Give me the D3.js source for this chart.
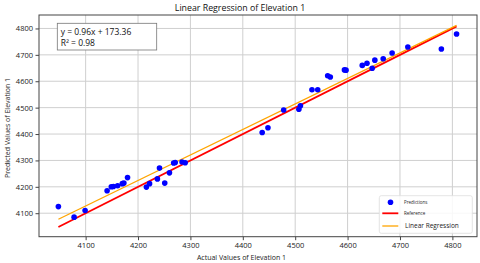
<!DOCTYPE html>
<html><head><meta charset="utf-8">
<script src="https://cdn.jsdelivr.net/npm/d3@7"></script>
<style>body{margin:0;background:#fff}svg{display:block;font-family:"Open Sans",sans-serif}</style>
</head><body><svg id="c" width="480" height="263"></svg>
<script>
const actual = [4048,4078,4099,4141,4149,4153,4161,4170,4173,4180,4216,4222,4237,4241,4251,4260,4268,4271,4284,4290,4437,4448,4478,4507,4510,4532,4543,4562,4567,4594,4597,4628,4637,4647,4652,4668,4685,4715,4779,4808];
const predicted = [4125,4085,4110,4185,4200,4201,4204,4212,4214,4235,4199,4212,4230,4271,4214,4253,4290,4292,4294,4291,4406,4424,4491,4494,4507,4568,4568,4621,4616,4643,4642,4660,4668,4649,4680,4685,4707,4730,4722,4779];
const refX = [4048, 4808], refY = [4048, 4808];
const regX = [4048, 4808], regY = [4077, 4812];
const xTicks = [4100,4200,4300,4400,4500,4600,4700,4800];
const yTicks = [4100,4200,4300,4400,4500,4600,4700,4800];
const eqLines = ["y = 0.96x + 173.36", "R\u00b2 = 0.98"];
const legendItems = ["Predictions","Reference","Linear Regression"];

const svg = d3.select("#c");
const L=39,R=477,T=15,B=236.7;
const x = d3.scaleLinear().domain([4011,4847]).range([L,R]);
const y = d3.scaleLinear().domain([4011,4851]).range([B,T]);

// grid
svg.append("g").selectAll("line").data(xTicks).join("line")
  .attr("x1",d=>x(d)).attr("x2",d=>x(d)).attr("y1",T).attr("y2",B)
  .attr("stroke","#cfcfcf").attr("stroke-width",1);
svg.append("g").selectAll("line").data(yTicks).join("line")
  .attr("y1",d=>y(d)).attr("y2",d=>y(d)).attr("x1",L).attr("x2",R)
  .attr("stroke","#cfcfcf").attr("stroke-width",1);

// axes
const xa = svg.append("g").attr("transform",`translate(0,${B})`)
  .call(d3.axisBottom(x).tickValues(xTicks).tickSize(3.5).tickPadding(2.5).tickFormat(d3.format("d")));
const ya = svg.append("g").attr("transform",`translate(${L},0)`)
  .call(d3.axisLeft(y).tickValues(yTicks).tickSize(3.5).tickPadding(2.5).tickFormat(d3.format("d")));
[xa,ya].forEach(a=>{a.select(".domain").remove();a.selectAll("text").attr("font-size",7.5).attr("fill","#222").attr("font-family","Open Sans");a.selectAll("line").attr("stroke","#444");});

svg.append("rect").attr("x",L).attr("y",T).attr("width",R-L).attr("height",B-T)
  .attr("fill","none").attr("stroke","#444").attr("stroke-width",1);

// lines
const line = d3.line().x(d=>x(d[0])).y(d=>y(d[1]));
svg.append("path").datum(refX.map((v,i)=>[v,refY[i]])).attr("d",line)
  .attr("stroke","#ff0000").attr("stroke-width",1.8).attr("fill","none");
svg.append("path").datum(regX.map((v,i)=>[v,regY[i]])).attr("d",line)
  .attr("stroke","#ffa500").attr("stroke-width",1.3).attr("fill","none");

// points
svg.append("g").selectAll("circle").data(actual.map((v,i)=>[v,predicted[i]])).join("circle")
  .attr("cx",d=>x(d[0])).attr("cy",d=>y(d[1])).attr("r",2.8).attr("fill","#0000ff");

// title & labels
svg.append("text").attr("x",240).attr("y",11).attr("text-anchor","middle")
  .attr("font-size",8.8).attr("fill","#111").text("Linear Regression of Elevation 1");
svg.append("text").attr("x",241.5).attr("y",259.5).attr("text-anchor","middle")
  .attr("font-size",7).attr("fill","#222").text("Actual Values of Elevation 1");
svg.append("text").attr("transform","translate(9.5,128) rotate(-90)").attr("text-anchor","middle")
  .attr("font-size",7).attr("fill","#222").text("Predicted Values of Elevation 1");

// equation box
svg.append("rect").attr("x",57.3).attr("y",23.3).attr("width",99.4).attr("height",26.7)
  .attr("fill","#fff").attr("stroke","#777").attr("stroke-width",0.8);
svg.append("g").selectAll("text").data(eqLines).join("text")
  .attr("x",60.7).attr("y",(d,i)=>34.5+i*11).attr("font-size",8.5).attr("fill","#111").text(d=>d);

// legend
const lg = svg.append("g");
lg.append("rect").attr("x",379.3).attr("y",195.7).attr("width",93).attr("height",37.6).attr("rx",2)
  .attr("fill","#fff").attr("fill-opacity",0.85).attr("stroke","#ddd").attr("stroke-width",0.8);
lg.append("circle").attr("cx",390.5).attr("cy",202.3).attr("r",2.8).attr("fill","#0000ff");
lg.append("line").attr("x1",382.3).attr("x2",398.3).attr("y1",213.3).attr("y2",213.3).attr("stroke","#ff0000").attr("stroke-width",1.8);
lg.append("line").attr("x1",382.3).attr("x2",398.3).attr("y1",226).attr("y2",226).attr("stroke","#ffa500").attr("stroke-width",1.3);
const lgY=[204,215,228.3], lgX=[404,404,405], lgS=[4.5,4.5,6.5];
lg.selectAll("text.l").data(legendItems).join("text").attr("class","l")
  .attr("x",(d,i)=>lgX[i]).attr("y",(d,i)=>lgY[i]).attr("font-size",(d,i)=>lgS[i]).attr("fill","#222").text(d=>d);
</script></body></html>
